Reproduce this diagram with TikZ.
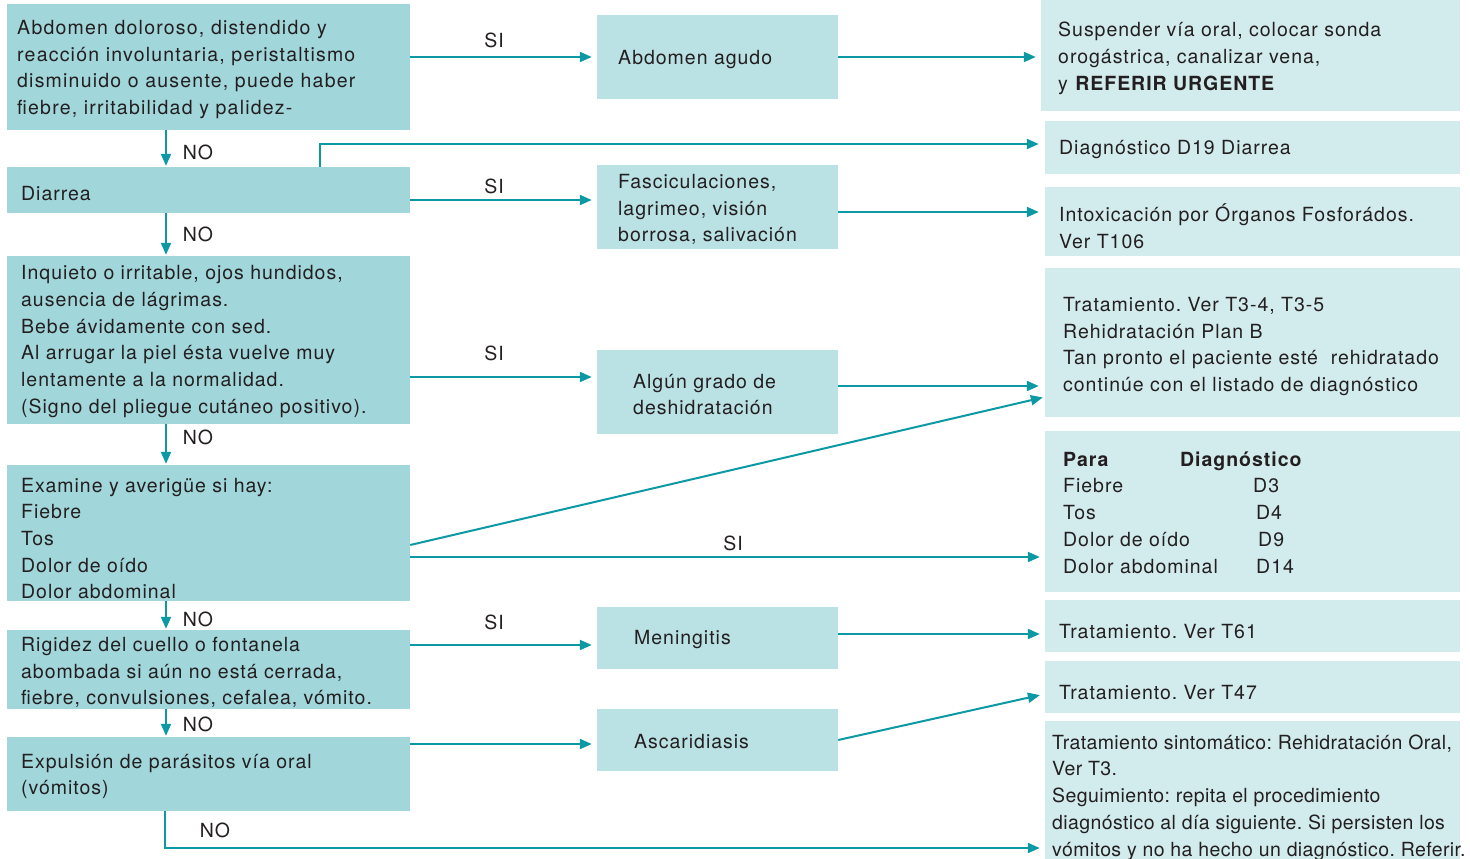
\documentclass[tikz,border=0pt]{standalone}
\usepackage{fontspec}
\setmainfont{TeX Gyre Heros}[LetterSpace=5]
\newfontfamily\tightfont{TeX Gyre Heros}[LetterSpace=2]
\newfontfamily\widefont{TeX Gyre Heros}[LetterSpace=6.2]
\usetikzlibrary{arrows.meta,calc}
\definecolor{boxA}{RGB}{161,214,218}
\definecolor{boxB}{RGB}{186,225,227}
\definecolor{boxC}{RGB}{210,235,237}
\definecolor{arrc}{RGB}{12,153,164}
\definecolor{txtc}{RGB}{35,31,32}
\frenchspacing
\begin{document}
\begin{tikzpicture}[x=1pt,y=-1pt,
  every node/.style={font=\fontsize{19.5}{26.7}\selectfont, text=txtc},
  boxa/.style={fill=boxA, draw=none, inner sep=0pt, minimum width=403pt},
  boxb/.style={fill=boxB, draw=none, inner sep=0pt, minimum width=241pt},
  boxc/.style={fill=boxC, draw=none, inner sep=0pt, minimum width=415pt},
  txt/.style={anchor=west, align=left, inner sep=0pt, yshift=-2.5pt},
  lab/.style={inner sep=0pt},
  arr/.style={draw=arrc, line width=2pt, -{Triangle[length=12pt,width=10pt]}}
]
\path[use as bounding box] (0,0) rectangle (1470,859);

% left column
\node[boxa, minimum height=126pt] (b1) at (208.5,67) {};
\node[boxa, minimum height=46pt] (b2) at (208.5,190) {};
\node[boxa, minimum height=168pt] (b3) at (208.5,340) {};
\node[boxa, minimum height=136pt] (b4) at (208.5,533) {};
\node[boxa, minimum height=79pt] (b5) at (208.5,669.5) {};
\node[boxa, minimum height=74pt] (b6) at (208.5,774) {};
% middle column
\node[boxb, minimum height=84pt] (m1) at (717.5,57) {};
\node[boxb, minimum height=84pt] (m2) at (717.5,207) {};
\node[boxb, minimum height=84pt] (m3) at (717.5,392) {};
\node[boxb, minimum height=62pt] (m4) at (717.5,638) {};
\node[boxb, minimum height=62pt] (m5) at (717.5,740) {};
% right column
\node[boxc, minimum width=419pt, minimum height=111pt] (r1) at (1250.5,55.5) {};
\node[boxc, minimum height=53pt] (r2) at (1252.5,147.5) {};
\node[boxc, minimum height=69pt] (r3) at (1252.5,221.5) {};
\node[boxc, minimum height=149pt] (r4) at (1252.5,342.5) {};
\node[boxc, minimum height=161pt] (r5) at (1252.5,511.5) {};
\node[boxc, minimum height=52pt] (r6) at (1252.5,626) {};
\node[boxc, minimum height=52pt] (r7) at (1252.5,687) {};
\node[boxc, minimum height=138pt] (r8) at (1252.5,790) {};

% texts
\node[txt] (b1t) at (17,67) {\widefont Abdomen doloroso, distendido y\\\widefont reacción involuntaria, peristaltismo\\\widefont disminuido o ausente, puede haber\\\widefont fiebre, irritabilidad y palidez-};
\node[txt] (b2t) at (21,191) {Diarrea};
\node[txt] (b3t) at (21,339) {Inquieto o irritable, ojos hundidos,\\ausencia de lágrimas.\\Bebe ávidamente con sed.\\Al arrugar la piel ésta vuelve muy\\lentamente a la normalidad.\\(Signo del pliegue cutáneo positivo).};
\node[txt] (b4t) at (21,536) {Examine y averigüe si hay:\\Fiebre\\Tos\\Dolor de oído\\Dolor abdominal};
\node[txt] (b5t) at (21,670) {Rigidez del cuello o fontanela\\abombada si aún no está cerrada,\\fiebre, convulsiones, cefalea, vómito.};
\node[txt] (b6t) at (21,774) {Expulsión de parásitos vía oral\\(vómitos)};

\node[txt] (m1t) at (618,57) {Abdomen agudo};
\node[txt] (m2t) at (618,207) {Fasciculaciones,\\lagrimeo, visión\\borrosa, salivación};
\node[txt] (m3t) at (633,392) {Algún grado de\\deshidratación};
\node[txt] (m4t) at (634,637) {Meningitis};
\node[txt] (m5t) at (634,739) {Ascaridiasis};

\node[txt] (r1t) at (1058,56) {Suspender vía oral, colocar sonda\\orogástrica, canalizar vena,\\y \textbf{REFERIR URGENTE}};
\node[txt] (r2t) at (1059,147) {Diagnóstico D19 Diarrea};
\node[txt] (r3t) at (1059,224) {Intoxicación por Órganos Fosforádos.\\Ver T106};
\node[txt] (r4t) at (1063,344) {Tratamiento. Ver T3-4, T3-5\\Rehidratación Plan B\\Tan pronto el paciente esté\ \ rehidratado\\continúe con el listado de diagnóstico};
\node[txt] (r5t) at (1063,510) {\makebox[117pt][l]{\textbf{Para}}\textbf{Diagnóstico}\\
  \makebox[190pt][l]{Fiebre}D3\\
  \makebox[193pt][l]{Tos}D4\\
  \makebox[195pt][l]{Dolor de oído}D9\\
  \makebox[193pt][l]{Dolor abdominal}D14};
\node[txt] (r6t) at (1059,629) {Tratamiento. Ver T61};
\node[txt] (r7t) at (1059,690) {Tratamiento. Ver T47};
\node[txt] (r8t) at (1052,795) {\tightfont Tratamiento sintomático: Rehidratación Oral,\\\tightfont Ver T3.\\\tightfont Seguimiento: repita el procedimiento\\\tightfont diagnóstico al día siguiente. Si persisten los\\\tightfont vómitos y no ha hecho un diagnóstico. Referir.};

% labels
\node[lab] (si1) at (494,40) {SI};
\node[lab] (si2) at (494,186) {SI};
\node[lab] (si3) at (494,353) {SI};
\node[lab] (si4) at (733,543) {SI};
\node[lab] (si5) at (494,622) {SI};
\node[lab] (no1) at (198,152) {NO};
\node[lab] (no2) at (198,234) {NO};
\node[lab] (no3) at (198,437) {NO};
\node[lab] (no4) at (198,619) {NO};
\node[lab] (no5) at (198,724) {NO};
\node[lab] (no6) at (215,830) {NO};

% vertical NO arrows
\foreach \a/\b in {b1/b2,b2/b3,b3/b4,b4/b5,b5/b6}{
  \coordinate (v) at ([xshift=-42.5pt]\a.south);
  \draw[arr, shorten >=1pt] (v) -- (v |- \b.north);
}

% horizontal connectors
\draw[arr, shorten >=5pt] (b1.east |- m1.west) -- (m1.west);
\draw[arr, shorten >=5pt] (m1.east) -- (m1.east -| r1.west);

\coordinate (d0) at ([xshift=111.5pt]b2.north);
\coordinate (d1) at ([yshift=3.5pt]r2.west);
\draw[arr, shorten >=6pt] (d0) |- (d1);

\coordinate (c2) at ([yshift=-10pt]b2.east);
\draw[arr, shorten >=5pt] (c2) -- (c2 -| m2.west);
\coordinate (c3) at ([yshift=-5pt]m2.east);
\draw[arr, shorten >=6pt] (c3) -- (c3 -| r3.west);

\coordinate (c4) at ([yshift=15pt]m3.west);
\draw[arr, shorten >=5pt] (b3.east |- c4) -- (c4);
\coordinate (c5) at ([yshift=6pt]m3.east);
\draw[arr, shorten >=6pt] (c5) -- (c5 -| r4.west);

\coordinate (c6) at ([yshift=-12pt]b4.east);
\coordinate (c7) at ([yshift=-54.5pt]r4.west);
\draw[arr, shorten >=2pt] (c6) -- (c7);
\coordinate (c8) at ([yshift=-24pt]b4.east);
\draw[arr, shorten >=5pt] (c8) -- (c8 -| r5.west);

\coordinate (c9) at ([yshift=-7pt]m4.west);
\draw[arr, shorten >=5pt] (b5.east |- c9) -- (c9);
\coordinate (c10) at ([yshift=4pt]m4.east);
\draw[arr, shorten >=5pt] (c10) -- (c10 -| r6.west);

\coordinate (c11) at ([yshift=-4pt]m5.west);
\draw[arr, shorten >=5pt] (b6.east |- c11) -- (c11);
\coordinate (c12) at ([yshift=-7pt]r7.west);
\draw[arr, shorten >=5pt] (m5.east) -- (c12);

\coordinate (c13) at ([xshift=-43.5pt]b6.south);
\coordinate (c14) at ([yshift=-58pt]r8.west);
\draw[arr, shorten >=5pt] (c13) |- (c14);
\end{tikzpicture}
\end{document}
